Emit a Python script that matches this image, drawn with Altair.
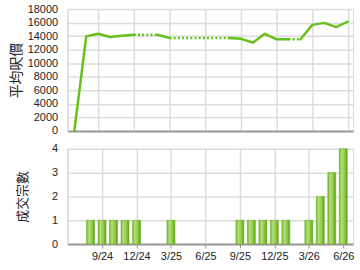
import altair as alt
import pandas as pd

months = ["7/24", "8/24", "9/24", "10/24", "11/24", "12/24", "1/25", "2/25", "3/25",
          "4/25", "5/25", "6/25", "7/25", "8/25", "9/25", "10/25", "11/25", "12/25",
          "1/26", "2/26", "3/26", "4/26", "5/26", "6/26"]
price = [0, 13970, 14350, 13870, 14050, 14200, None, None, 13720, None, None, None,
         None, None, 13620, 13040, 14350, 13530, 13530, None, 15660, 15960, 15330, 16160]
deals = [0, 1, 1, 1, 1, 1, 0, 0, 1, 0, 0, 0, 0, 0, 1, 1, 1, 1, 1, 0, 1, 2, 3, 4]
tick_labels = ["9/24", "12/24", "3/25", "6/25", "9/25", "12/25", "3/26", "6/26"]
tick_pos = [months.index(t) for t in tick_labels]

# carry last known value across months without data (drawn dotted)
filled = []
last = None
for p in price:
    last = p if p is not None else last
    filled.append(last)

rows = []
run = 0
prev_style = None
for i in range(1, len(months)):
    style = "dot" if price[i] is None else "solid"
    if style != prev_style:
        run += 1
        rows.append({"m": i - 1, "v": filled[i - 1], "run": run, "style": style})
    rows.append({"m": i, "v": filled[i], "run": run, "style": style})
    prev_style = style
line_df = pd.DataFrame(rows)

bar_df = pd.DataFrame({"m": list(range(len(months))), "n": deals})
bar_df = bar_df[bar_df["n"] > 0]

label_expr = "".join(f"datum.value == {p} ? '{t}' : " for p, t in zip(tick_pos, tick_labels)) + "''"

xscale = alt.Scale(domain=[-0.58, 23.42], nice=False, zero=False)
grid_col = "#dcdcdc"

x_top = alt.X("m:Q", scale=xscale, title=None,
              axis=alt.Axis(values=tick_pos, labels=False, ticks=False, domain=True,
                            domainColor="#999999", domainWidth=2,
                            grid=True, gridColor=grid_col, gridWidth=1.5))
x_bot = alt.X("m:Q", scale=xscale, title=None,
              axis=alt.Axis(values=tick_pos, labelExpr=label_expr, ticks=True, tickSize=4,
                            tickColor="#999999", domain=True, domainColor="#999999",
                            domainWidth=2, grid=True, gridColor=grid_col, gridWidth=1.5,
                            labelFontSize=11, labelColor="#222222", labelPadding=3,
                            labelFont="Liberation Sans", labelOverlap=False))
y_top = alt.Y("v:Q", scale=alt.Scale(domain=[0, 18000], nice=False),
              title="平均呎價",
              axis=alt.Axis(values=list(range(0, 18001, 2000)), format="d", labelOverlap=False,
                            labelFontSize=11, labelColor="#222222", labelFont="Liberation Sans",
                            titleFont="Noto Sans CJK TC", titleFontSize=14,
                            titleFontWeight="normal", titleColor="#222222", titlePadding=4,
                            ticks=False, labelPadding=10, domain=True, domainColor=grid_col,
                            domainWidth=1.5, gridColor=grid_col, gridWidth=1.5))

line_col = "#66c21a"
solid = alt.Chart(line_df[line_df["style"] == "solid"]).mark_line(
    color=line_col, strokeWidth=2.5, strokeJoin="round", strokeCap="round"
).encode(x=x_top, y=y_top, detail="run:N")
dotted = alt.Chart(line_df[line_df["style"] == "dot"]).mark_line(
    color=line_col, strokeWidth=2.5, strokeDash=[2, 2.2]
).encode(x=x_top, y=y_top, detail="run:N")
top = alt.layer(solid, dotted).properties(width=288, height=123)

grad = alt.Gradient(
    gradient="linear", x1=0, x2=1, y1=0, y2=0,
    stops=[alt.GradientStop(color="#74b828", offset=0),
           alt.GradientStop(color="#b4de7c", offset=0.3),
           alt.GradientStop(color="#94cc4c", offset=0.65),
           alt.GradientStop(color="#5a9e12", offset=1)])
bars = alt.Chart(bar_df).mark_bar(size=8, color=grad, stroke="#6aae22", strokeWidth=0.6).encode(
    x=x_bot,
    y=alt.Y("n:Q", scale=alt.Scale(domain=[0, 4], nice=False), title="成交宗數",
            axis=alt.Axis(values=[0, 1, 2, 3, 4], labelFontSize=11, labelColor="#222222",
                          labelFont="Liberation Sans", titleFont="Noto Sans CJK TC",
                          titleFontSize=13, titleFontWeight="normal", titleColor="#222222",
                          titlePadding=22, ticks=False, labelPadding=10, domain=True,
                          domainColor=grid_col, domainWidth=1.5, gridColor=grid_col,
                          gridWidth=1.5, labelOverlap=False)),
).properties(width=288, height=96)

chart = alt.vconcat(top, bars, spacing=5).properties(
    padding={"left": 8, "top": 1, "right": 5, "bottom": 2}
).configure_view(stroke=grid_col, strokeWidth=1.5).configure(background="white")

chart.save("out.html", embed_options={"renderer": "svg", "actions": False})
